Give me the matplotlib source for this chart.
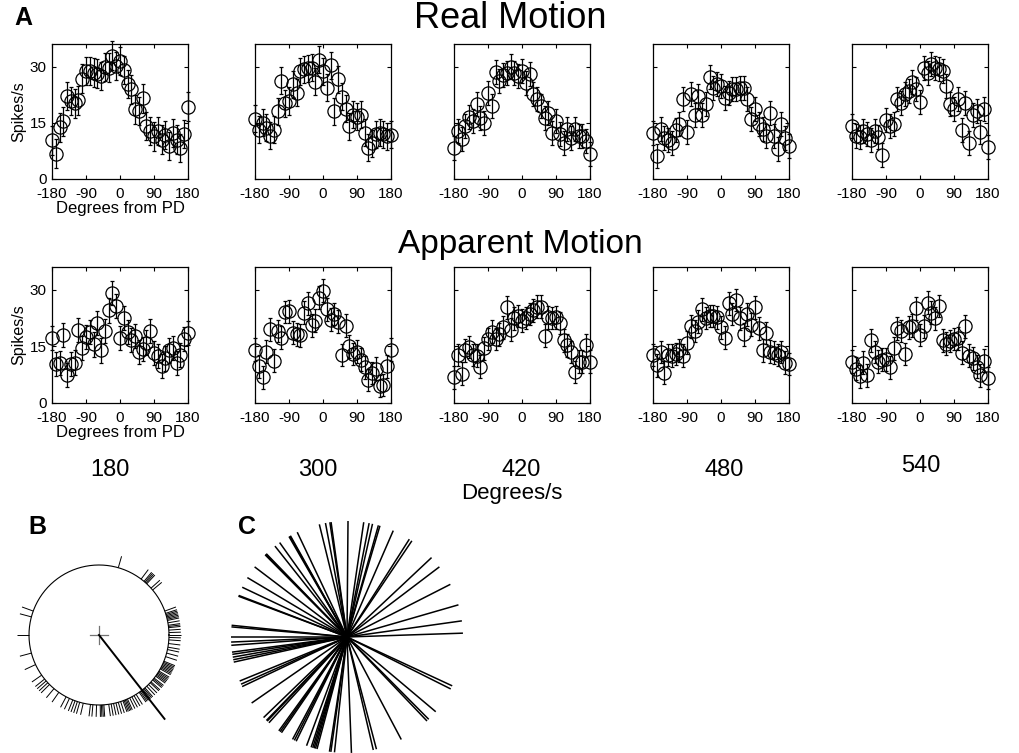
import numpy as np
import matplotlib
matplotlib.use("Agg")
import matplotlib.pyplot as plt
from matplotlib.collections import LineCollection

plt.rcParams['font.family'] = ['Liberation Sans', 'DejaVu Sans']
plt.rcParams['axes.unicode_minus'] = False

# stimulus directions relative to preferred direction (deg)
DIRECTIONS = [-180, -170, -160, -150, -140, -130, -120, -110, -100, -90, -80, -70, -60,
              -50, -40, -30, -20, -10, 0, 10, 20, 30, 40, 50, 60, 70, 80, 90, 100,
              110, 120, 130, 140, 150, 160, 170, 180]

SPEEDS = ['180', '300', '420', '480', '540']

# mean firing rates (spikes/s), real motion
REAL_180 = [10.3, 6.8, 13.8, 15.4, 22.1, 20.8, 20.2, 21.0, 26.8, 28.8, 28.8, 28.4, 28.1,
            27.5, 29.9, 29.7, 32.9, 30.2, 31.5, 29.1, 25.3, 23.9, 18.6, 18.1, 21.5, 14.1,
            12.8, 11.4, 12.8, 10.5, 11.8, 8.8, 12.3, 10.5, 8.3, 12.0, 19.3]
REAL_300 = [16.1, 13.2, 15.0, 13.7, 11.6, 13.2, 18.1, 26.2, 20.2, 20.8, 25.3, 23.0, 28.8,
            29.3, 29.5, 29.7, 25.9, 31.8, 28.8, 24.4, 30.4, 18.1, 26.6, 22.0, 18.8, 14.1,
            17.2, 16.6, 17.2, 12.3, 8.3, 9.6, 11.9, 12.3, 11.9, 11.4, 11.8]
REAL_420 = [8.3, 12.8, 10.7, 14.1, 16.6, 15.4, 19.9, 16.3, 15.0, 23.0, 19.5, 28.6, 26.2,
            27.7, 28.4, 30.0, 28.4, 27.5, 28.8, 25.7, 28.0, 22.6, 21.3, 19.5, 16.3, 17.7,
            12.3, 15.4, 11.9, 9.6, 13.4, 11.0, 13.4, 11.4, 11.4, 10.1, 6.8]
REAL_480 = [12.3, 6.1, 13.4, 11.0, 10.5, 9.6, 13.2, 14.6, 21.4, 12.5, 22.6, 17.2, 22.1,
            17.2, 19.9, 27.1, 24.4, 25.3, 24.8, 21.7, 23.0, 23.9, 24.1, 24.4, 24.4, 21.4,
            15.9, 18.6, 14.6, 13.4, 11.4, 17.7, 11.4, 7.9, 14.6, 11.0, 8.9]
REAL_540 = [14.1, 11.6, 11.3, 12.8, 12.1, 10.5, 12.8, 11.3, 6.5, 15.7, 14.1, 14.6, 21.3,
            20.2, 22.6, 23.5, 25.9, 23.9, 20.5, 29.5, 28.4, 30.6, 29.7, 29.3, 28.8, 24.8,
            19.9, 18.6, 21.3, 13.2, 20.4, 9.6, 17.2, 18.1, 12.5, 18.6, 8.6]

# apparent motion
APP_180 = [17.1, 10.3, 10.5, 18.0, 7.5, 10.3, 10.7, 19.4, 14.5, 17.5, 18.7, 15.5, 21.2,
           13.9, 19.1, 24.5, 29.1, 25.7, 17.3, 22.5, 18.7, 16.6, 17.8, 13.5, 14.4, 16.0,
           19.1, 13.3, 12.5, 9.8, 11.8, 13.9, 14.5, 10.5, 12.7, 16.9, 18.5]
APP_300 = [14.1, 9.7, 6.8, 13.6, 19.5, 11.2, 19.1, 17.3, 24.1, 24.3, 18.6, 18.2, 17.9,
           23.9, 26.4, 20.6, 21.8, 27.9, 29.7, 24.8, 22.1, 23.6, 21.5, 12.7, 20.5, 15.0,
           13.0, 13.6, 11.5, 9.4, 6.1, 7.9, 9.1, 4.5, 4.8, 9.7, 14.1]
APP_420 = [6.8, 12.7, 7.8, 13.9, 14.8, 12.7, 12.5, 9.6, 14.5, 16.9, 18.9, 16.9, 18.2,
           20.0, 25.3, 19.4, 22.4, 23.0, 21.8, 22.5, 23.6, 24.5, 25.5, 25.5, 17.8, 22.7,
           22.5, 22.7, 21.2, 16.6, 15.3, 13.5, 8.2, 10.9, 10.9, 15.3, 10.9]
APP_480 = [12.7, 10.0, 13.5, 8.0, 12.7, 12.5, 13.0, 13.9, 12.5, 16.0, 20.3, 19.1, 21.5,
           24.8, 22.5, 23.0, 23.0, 22.7, 20.0, 17.3, 26.4, 23.6, 27.3, 22.4, 18.2, 23.5,
           20.7, 25.3, 19.8, 13.9, 18.5, 13.6, 13.3, 12.7, 13.5, 10.7, 10.3]
APP_540 = [10.9, 9.1, 7.1, 10.7, 7.3, 16.6, 13.5, 10.9, 11.5, 11.6, 9.4, 14.5, 19.8,
           19.1, 13.0, 20.0, 20.5, 25.1, 18.0, 20.3, 26.6, 23.9, 22.4, 25.7, 16.6, 15.7,
           16.4, 16.9, 17.1, 13.3, 20.3, 12.5, 11.8, 9.6, 7.3, 11.2, 6.6]

SEM_REAL = [3.8, 3.6, 3.2, 3.2, 3.2]
SEM_APP = [3.2, 3.0, 3.0, 3.0, 3.0]

# B: preferred directions of individual cells (deg) and population mean
B_ANGLES = [74, 53, 50, 49, 48, 47, 42, 40,
            20, 18, 17, 16, 15, 14, 13, 12, 10, 8, 7, 6, 4, 2, 0, -2, -4, -7, -10, -12,
            -15, -18,
            -22, -23, -24, -25, -26, -27, -28, -29, -31, -32, -33, -34, -35, -36, -38,
            -39, -40, -42, -43, -45, -47, -49, -50, -51, -52, -53, -54, -55,
            -58, -60, -62, -64, -66, -67, -68, -69, -70, -72, -74, -76, -78, -80, -82,
            -86, -87, -88, -89, -92, -95, -97,
            -103, -106, -108, -110, -112, -115, -118, -125, -130, -135, -137, -139,
            -141, -145, -155, -165, 180, 165, 160]
B_MEAN_ANGLE = -52
B_MEAN_LEN = 1.52

# C: direction differences (deg)
C_ANGLES = [103.8, 100.7, 98.5, 97.9, 89.5, 81.7, 79.0, 77.3, 74.3, 73.5, 66.5, 57.5,
            56.0, 43.2, 37.2, 27.0, 16.1, 8.0, 1.9, -24.9, -26.6, -40.1, -45.2, -46.4,
            -62.1, -75.3, -76.9, -87.8, -96.2, -98.0, -98.7, -105.0, -105.8, -106.5,
            -107.2, -108.0, -110.4, -116.0, -117.0, -118.0, -124.4, -125.2, -126.0,
            -132.3, -133.5, -134.0, -136.0, -145.3, -154.7, -156.0, -157.7, -167.5,
            -168.7, -170.0, -171.4, -172.5, -175.9, -177.5, 180.0, 175.0, 174.2,
            159.4, 159.0, 154.6, 149.2, 142.8, 134.9, 134.5, 134.1, 128.4, 125.5,
            120.0, 119.5, 119.2, 115.4]

W, H = 1019, 753
fig = plt.figure(figsize=(W / 100, H / 100), dpi=100)


def px_axes(left, top, width, height):
    return fig.add_axes([left / W, 1 - (top + height) / H, width / W, height / H])


def tuning(ax, rates, sem, first):
    cont = ax.errorbar(DIRECTIONS, rates, yerr=sem, fmt='o', mfc='none', mec='black',
                       ms=9.5, mew=0.9, ecolor='black', elinewidth=0.9,
                       capsize=1.5, capthick=0.9)
    for child in cont.get_children():
        child.set_clip_on(False)
    ax.set_xlim(-180, 180)
    ax.set_ylim(0, 36)
    ax.set_xticks([-180, -90, 0, 90, 180])
    ax.set_yticks([0, 15, 30])
    ax.tick_params(direction='in', top=True, right=True, length=3, width=0.8,
                   labelsize=11)
    ax.tick_params(axis='x', pad=5.5)
    ax.tick_params(axis='y', pad=4)
    for s in ax.spines.values():
        s.set_linewidth(0.9)
    if first:
        ax.set_ylabel('Spikes/s', fontsize=11.5, labelpad=2)
        ax.set_xlabel('Degrees from PD', fontsize=12, labelpad=0.5)
    else:
        ax.set_yticklabels([])


lefts = [52, 255, 454, 653, 852]
real = [REAL_180, REAL_300, REAL_420, REAL_480, REAL_540]
app = [APP_180, APP_300, APP_420, APP_480, APP_540]
for i in range(5):
    ax = px_axes(lefts[i], 44, 136, 135)
    tuning(ax, real[i], SEM_REAL[i], i == 0)
    ax = px_axes(lefts[i], 267, 136, 136)
    tuning(ax, app[i], SEM_APP[i], i == 0)

fig.text(14 / W, 1 - 18 / H, 'A', fontsize=18, fontweight='bold', va='center')
fig.text(510 / W, 1 - 19 / H, 'Real Motion', fontsize=26, ha='center', va='center')
fig.text(520 / W, 1 - 245 / H, 'Apparent Motion', fontsize=24, ha='center', va='center')

speed_x = [110, 318, 521, 724, 921]
speed_y = [470, 470, 470, 470, 466]
for i in range(5):
    fig.text(speed_x[i] / W, 1 - speed_y[i] / H, SPEEDS[i], fontsize=17,
             ha='center', va='center')
fig.text(512 / W, 1 - 493 / H, 'Degrees/s', fontsize=16, ha='center', va='center')

# panel B
fig.text(28 / W, 1 - 527 / H, 'B', fontsize=18, fontweight='bold', va='center')
r_px = 70
axb = px_axes(99 - 110, 635 - 110, 220, 220)
axb.set_xlim(-110 / r_px, 110 / r_px)
axb.set_ylim(-110 / r_px, 110 / r_px)
axb.axis('off')
t = np.linspace(0, 2 * np.pi, 400)
axb.plot(np.cos(t), np.sin(t), color='black', lw=0.8)
b = np.radians(B_ANGLES)
segs = [[(np.cos(a), np.sin(a)), (1.17 * np.cos(a), 1.17 * np.sin(a))] for a in b]
axb.add_collection(LineCollection(segs, colors='black', linewidths=0.7))
axb.plot([-0.13, 0.13], [0, 0], color='0.45', lw=0.9)
axb.plot([0, 0], [-0.13, 0.13], color='0.45', lw=0.9)
m = np.radians(B_MEAN_ANGLE)
axb.plot([0, B_MEAN_LEN * np.cos(m)], [0, B_MEAN_LEN * np.sin(m)], color='black', lw=1.4)

# panel C
fig.text(238 / W, 1 - 527 / H, 'C', fontsize=18, fontweight='bold', va='center')
rc = 116
axc = px_axes(347 - 125, 637 - 125, 250, 250)
axc.set_xlim(-125 / rc, 125 / rc)
axc.set_ylim(-125 / rc, 125 / rc)
axc.axis('off')
c = np.radians(C_ANGLES)
segs = [[(0, 0), (np.cos(a), np.sin(a))] for a in c]
axc.add_collection(LineCollection(segs, colors='black', linewidths=1.1))

fig.savefig('out.png', dpi=100)
